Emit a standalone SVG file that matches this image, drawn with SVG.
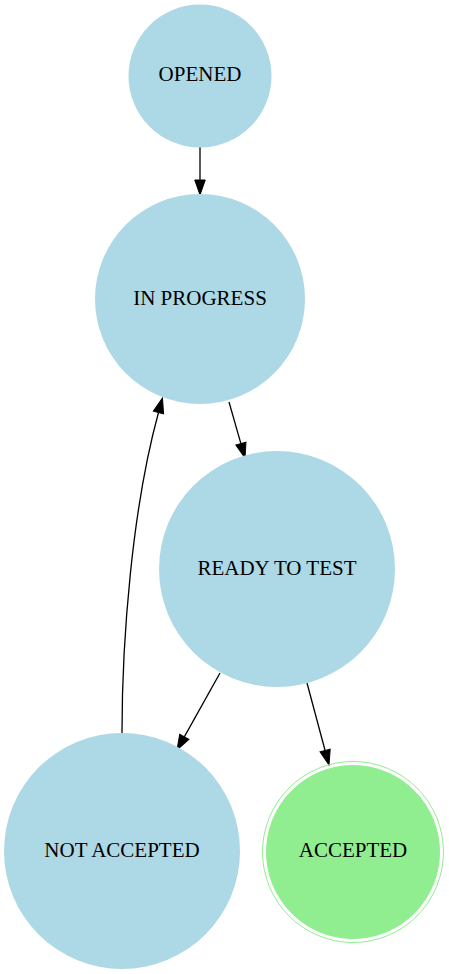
<svg xmlns="http://www.w3.org/2000/svg" width="449" height="974" viewBox="0 0 449 974">
<style>
.n{fill:#add8e6;stroke:none}
.a{fill:#90ee90;stroke:#90ee90}
.t{font-family:"Liberation Serif","Times New Roman",serif;font-size:21px;fill:#000;text-anchor:middle}
.e{fill:none;stroke:#000;stroke-width:1.3}
</style>
<defs>
<marker id="arr" markerUnits="userSpaceOnUse" markerWidth="16" markerHeight="12" refX="0" refY="5.25" orient="auto" overflow="visible">
<path d="M0,0 L15,5.25 L0,10.5 z" fill="#000" stroke="#000" stroke-width="1"/>
</marker>
</defs>
<rect width="449" height="974" fill="#fff"/>
<g id="edges">
<path class="e" d="M200,147 L200,180" marker-end="url(#arr)"/>
<path class="e" d="M229,402 L240.9,443.6" marker-end="url(#arr)"/>
<path class="e" d="M220,673 L184.3,736.9" marker-end="url(#arr)"/>
<path class="e" d="M307,683 L325.1,750.5" marker-end="url(#arr)"/>
<path class="e" d="M122,733 C122,640 132,509 158.5,412.5" marker-end="url(#arr)"/>
</g>
<g id="opened">
<circle class="n" cx="200" cy="76" r="71.5"/>
<text class="t" x="200" y="81">OPENED</text>
</g>
<g id="in_progress">
<circle class="n" cx="200" cy="299" r="105"/>
<text class="t" x="200" y="305">IN PROGRESS</text>
</g>
<g id="ready_to_test">
<circle class="n" cx="277" cy="569" r="118"/>
<text class="t" x="277" y="575">READY TO TEST</text>
</g>
<g id="not_accepted">
<circle class="n" cx="122" cy="851" r="118"/>
<text class="t" x="122" y="857">NOT ACCEPTED</text>
</g>
<g id="accepted">
<circle cx="353" cy="852" r="90.5" fill="none" stroke="#90ee90"/>
<circle class="a" cx="353" cy="852" r="86.5"/>
<text class="t" x="353" y="857">ACCEPTED</text>
</g>
</svg>
